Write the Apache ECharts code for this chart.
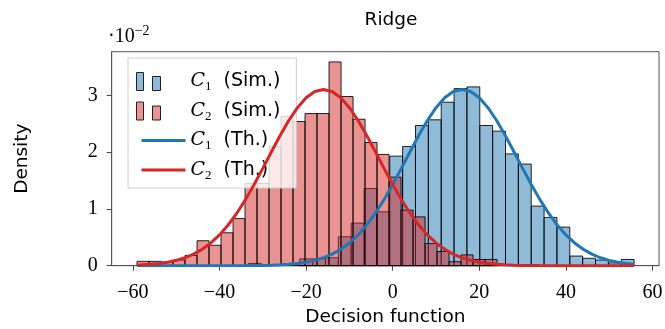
<!DOCTYPE html>
<html><head><meta charset="utf-8">
<script src="https://cdn.jsdelivr.net/npm/echarts@6/dist/echarts.min.js"></script>
<style>html,body{margin:0;padding:0;background:#fff}#c{width:665px;height:329px}</style>
</head><body><div id="c"></div>
<script>
// ---- data (densities in units of 1e-2) ----
const xTicks = [-60, -40, -20, 0, 20, 40, 60];
const yTicks = [0, 1, 2, 3];
const redRange = [-59.05, 24.1];
const blueRange = [-33.35, 55.75];
const redDensity = [0.077, 0.077, 0.065, 0.10, 0.18, 0.44, 0.36, 0.58, 0.83, 1.45,
                    1.45, 2.10, 2.63, 2.54, 2.68, 2.68, 3.59, 2.98, 2.58, 2.17,
                    1.96, 1.56, 0.98, 0.86, 0.39, 0.25, 0.07, 0.19, 0.11, 0.11];
const blueDensity = [0.04, 0, 0, 0, 0.12, 0.12, 0.14, 0.51, 0.75, 1.36,
                     0.95, 1.93, 2.10, 2.47, 2.57, 2.88, 3.12, 3.15, 2.47, 2.37,
                     1.97, 1.79, 1.05, 0.85, 0.68, 0.17, 0.13, 0.10, 0.05, 0.11];
const curveX = [-59, -58, -56, -54, -52, -50, -48, -46, -44, -42, -40, -38, -36, -34, -32, -30,
                -28, -26, -24, -22, -20, -18, -16, -14, -12, -10, -8, -6, -4, -2, 0, 2, 4, 6, 8,
                10, 12, 14, 16, 18, 20, 22, 24, 26, 28, 30, 32, 34, 36, 38, 40, 42, 44, 46, 48,
                50, 52, 54, 55.7];
const redCurve = [0.0115, 0.0149, 0.0244, 0.0392, 0.0613, 0.0937, 0.1398, 0.2035, 0.289, 0.401,
                  0.5425, 0.717, 0.925, 1.164, 1.430, 1.715, 2.007, 2.294, 2.558, 2.784, 2.958,
                  3.068, 3.105, 3.068, 2.958, 2.784, 2.558, 2.294, 2.007, 1.715, 1.430, 1.164,
                  0.925, 0.717, 0.5425, 0.401, 0.289, 0.2035, 0.1398, 0.0937, 0.0613, 0.0392,
                  0.0244, 0.0149, 0.0088, 0.0051, 0.003, 0.0016, 0.0009, 0.0005, 0.0002, 0.0001,
                  0, 0, 0, 0, 0, 0, 0];
const blueCurve = [0, 0, 0, 0, 0, 0, 0, 0, 0, 0,
                   0.0002, 0.0005, 0.0009, 0.0016, 0.003, 0.0051, 0.0088, 0.0149, 0.0244, 0.0392,
                   0.0613, 0.0937, 0.1398, 0.2035, 0.289, 0.401, 0.5425, 0.717, 0.925, 1.164,
                   1.430, 1.715, 2.007, 2.294, 2.558, 2.784, 2.958, 3.068, 3.105, 3.068, 2.958,
                   2.784, 2.558, 2.294, 2.007, 1.715, 1.430, 1.164, 0.925, 0.717, 0.5425, 0.401,
                   0.289, 0.2035, 0.1398, 0.0937, 0.0613, 0.0392, 0.0263];
const names = ['C1 (Sim.)', 'C2 (Sim.)', 'C1 (Th.)', 'C2 (Th.)'];

// ---- build ----
function bins(range, dens) {
  const w = (range[1] - range[0]) / dens.length;
  return dens.map((d, i) => [range[0] + i * w, range[0] + (i + 1) * w, d]);
}
function pairs(xs, ys) { return xs.map((x, i) => [x, ys[i]]); }
const blueFill = 'rgba(31,119,180,0.5)';
const redFill = 'rgba(214,39,40,0.5)';
function barRenderer(fill) {
  return function (params, api) {
    const h = api.value(2);
    if (!h) return null;
    const a = api.coord([api.value(0), h]);
    const b = api.coord([api.value(1), 0]);
    return { type: 'rect', shape: { x: a[0], y: a[1], width: b[0] - a[0], height: b[1] - a[1] },
      style: { fill: fill, stroke: 'rgba(0,0,0,0.85)', lineWidth: 1 } };
  };
}
const barIcon = 'path://M0,0H7V18H0Z M16,4H24V18H16Z M49,18';
const lineIcon = 'path://M0,9 M5,6.5H49V9.5H5Z';
const serif = 'Liberation Serif';
const sans = 'DejaVu Sans';

const chart = echarts.init(document.getElementById('c'), null, { renderer: 'canvas' });
chart.setOption({
  animation: false,
  backgroundColor: '#fff',
  title: { text: 'Ridge', left: 386, textAlign: 'center', top: 6,
    textStyle: { fontFamily: sans, fontSize: 18.5, fontWeight: 'normal', color: '#000' } },
  grid: { left: 111.7, right: 6, top: 51.7, bottom: 63.3, show: true, borderColor: '#555', borderWidth: 1,
    containLabel: false, outerBoundsMode: 'none' },
  xAxis: {
    type: 'value', min: -64.9, max: 61.5,
    name: 'Decision function', nameLocation: 'middle', nameGap: 42,
    nameTextStyle: { fontFamily: sans, fontSize: 18.5, color: '#000' },
    axisLine: { show: true, onZero: false, lineStyle: { color: '#555' } },
    axisTick: { show: true, length: 5, customValues: xTicks, lineStyle: { color: '#444' } },
    axisLabel: { customValues: xTicks, margin: 17, fontFamily: serif, fontSize: 20, color: '#000',
      formatter: v => String(v).replace('-', '\u2212') },
    splitLine: { show: false }
  },
  yAxis: {
    type: 'value', min: 0, max: 3.77,
    name: 'Density', nameLocation: 'middle', nameGap: 80,
    nameTextStyle: { fontFamily: sans, fontSize: 18.5, color: '#000' },
    axisLine: { show: true, onZero: false, lineStyle: { color: '#555' } },
    axisTick: { show: true, length: 5, customValues: yTicks, lineStyle: { color: '#444' } },
    axisLabel: { customValues: yTicks, margin: 14, fontFamily: serif, fontSize: 20, color: '#000' },
    splitLine: { show: false }
  },
  legend: {
    orient: 'vertical', left: 128, top: 58, padding: [14, 16, 6, 8], itemGap: 8,
    itemWidth: 49, itemHeight: 18,
    backgroundColor: 'rgba(255,255,255,0.8)', borderColor: '#ccc', borderWidth: 1,
    data: [
      { name: names[0], icon: barIcon, itemStyle: { color: blueFill, borderColor: '#222', borderWidth: 1 } },
      { name: names[1], icon: barIcon, itemStyle: { color: redFill, borderColor: '#222', borderWidth: 1 } },
      { name: names[2], icon: lineIcon, itemStyle: { color: '#1f77b4', borderWidth: 0 } },
      { name: names[3], icon: lineIcon, itemStyle: { color: '#d62728', borderWidth: 0 } }
    ],
    formatter: n => '{c|C}{s|' + n[1] + '}{t|  ' + n.slice(3) + '}',
    textStyle: {
      rich: {
        c: { fontFamily: 'DejaVu Serif', fontStyle: 'italic', fontSize: 19, lineHeight: 24, color: '#000' },
        s: { fontFamily: serif, fontSize: 13, lineHeight: 14, verticalAlign: 'bottom', color: '#000' },
        t: { fontFamily: sans, fontSize: 19, lineHeight: 24, color: '#000' }
      }
    }
  },
  graphic: [{
    type: 'text', left: 108, top: 24,
    style: { text: '{a|\u00b710}{b|\u22122}', rich: {
      a: { fontFamily: serif, fontSize: 20, lineHeight: 23, verticalAlign: 'bottom', fill: '#000' },
      b: { fontFamily: serif, fontSize: 14, lineHeight: 15, verticalAlign: 'top', fill: '#000' } } }
  }],
  series: [
    { name: names[0], type: 'custom', renderItem: barRenderer(blueFill), data: bins(blueRange, blueDensity),
      encode: { x: [0, 1], y: 2 }, itemStyle: { color: blueFill }, z: 2 },
    { name: names[1], type: 'custom', renderItem: barRenderer(redFill), data: bins(redRange, redDensity),
      encode: { x: [0, 1], y: 2 }, itemStyle: { color: redFill }, z: 3 },
    { name: names[2], type: 'line', data: pairs(curveX, blueCurve), showSymbol: false, symbol: 'none',
      lineStyle: { color: '#1f77b4', width: 3 }, itemStyle: { color: '#1f77b4' }, z: 4 },
    { name: names[3], type: 'line', data: pairs(curveX, redCurve), showSymbol: false, symbol: 'none',
      lineStyle: { color: '#d62728', width: 3 }, itemStyle: { color: '#d62728' }, z: 5 }
  ]
});
</script></body></html>
